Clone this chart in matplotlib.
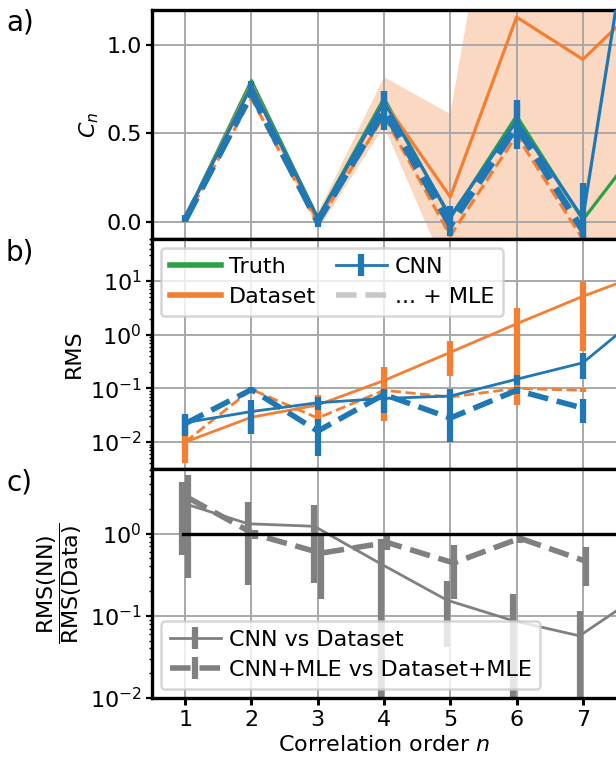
import matplotlib
matplotlib.use("Agg")
import matplotlib.pyplot as plt
from matplotlib.lines import Line2D
import numpy as np

# ---------------- data ----------------
n_full = [1, 2, 3, 4, 5, 6, 7, 8]
n_mle = [1, 2, 3, 4, 5, 6, 7]
xticks = [1, 2, 3, 4, 5, 6, 7]

# panel a: correlation values C_n
truth = [0.02, 0.80, 0.02, 0.70, 0.02, 0.60, 0.01, 0.50]
dataset = [0.02, 0.78, 0.00, 0.68, 0.14, 1.16, 0.92, 1.28]
dataset_mle = [0.01, 0.70, -0.01, 0.60, -0.08, 0.49, -0.10]
cnn = [0.02, 0.77, 0.02, 0.68, 0.03, 0.57, 0.02, 2.40]
cnn_err = [0.02, 0.03, 0.03, 0.06, 0.06, 0.12, 0.20, 0.30]
cnn_mle = [0.01, 0.73, 0.00, 0.63, -0.02, 0.54, -0.05]
cnn_mle_err = [0.01, 0.03, 0.03, 0.11, 0.06, 0.13, 0.05]

# panel b: RMS
rms_dataset = [0.010, 0.029, 0.049, 0.14, 0.47, 1.6, 5.2, 15.0]
rms_dataset_err = [0.006, 0.015, 0.026, 0.115, 0.30, 1.55, 4.7, 8.0]
rms_dataset_mle = [0.010, 0.096, 0.028, 0.092, 0.069, 0.100, 0.092]
rms_dataset_mle_err = [0.003, 0.008, 0.004, 0.008, 0.006, 0.008, 0.008]
rms_cnn = [0.023, 0.037, 0.054, 0.065, 0.072, 0.148, 0.30, 3.1]
rms_cnn_err = [0.010, 0.023, 0.015, 0.030, 0.025, 0.030, 0.15, 1.0]
rms_cnn_mle = [0.022, 0.095, 0.016, 0.077, 0.028, 0.092, 0.043]
rms_cnn_mle_err = [0.008, 0.012, 0.0105, 0.020, 0.018, 0.015, 0.020]

# panel c: RMS ratios
ratio = [2.38, 1.32, 1.23, 0.43, 0.155, 0.087, 0.057, 0.20]
ratio_err = [1.83, 1.08, 0.98, 0.44, 0.113, 0.095, 0.058, 0.10]
ratio_mle = [2.72, 0.98, 0.58, 0.78, 0.44, 0.88, 0.46]
ratio_mle_err = [2.43, 0.13, 0.42, 0.15, 0.28, 0.12, 0.23]

# ---------------- style ----------------
GREEN = "#2ca044"
ORANGE = "#f47f33"
BLUE = "#1f77b4"
GREY = "#808080"
GRIDC = "#a8a8a8"
FS = 16
LFS = 16

plt.rcParams["font.family"] = ["DejaVu Sans"]
plt.rcParams["font.size"] = FS
plt.rcParams["mathtext.fontset"] = "dejavusans"

fig = plt.figure(figsize=(6.16, 7.66), dpi=100)
L = 152 / 616
W = 1.0 - L
H = 229.3 / 766
tops = [10 / 766, 239.3 / 766, 468.6 / 766]
axes = []
for t in tops:
    axes.append(fig.add_axes([L, 1 - t - H, W, H]))
axa, axb, axc = axes

for ax in axes:
    ax.set_xlim(0.5, 7.5)
    ax.set_xticks(xticks)
    ax.grid(True, which="major", color=GRIDC, lw=1.4)
    for s in ["top", "bottom", "left"]:
        ax.spines[s].set_linewidth(2.4)
    ax.spines["right"].set_visible(False)
    ax.tick_params(axis="y", which="major", length=4, width=1.6, labelsize=FS)
    ax.tick_params(axis="y", which="minor", length=2.5, width=1.0)
    ax.tick_params(axis="x", which="major", length=5, width=2.2, labelsize=FS)

for ax in (axa, axb):
    ax.tick_params(axis="x", length=0, labelbottom=False)

# ---------------- panel a ----------------
lo = np.array(dataset) - np.array(rms_dataset)
hi = np.array(dataset) + np.array(rms_dataset)
axa.fill_between(n_full, lo, hi, color=ORANGE, alpha=0.3, lw=0)
axa.plot(n_full, truth, color=GREEN, lw=2.3, zorder=3)
axa.plot(n_full, dataset, color=ORANGE, lw=2.3, zorder=3)
axa.plot(n_mle, dataset_mle, color=ORANGE, lw=2.3, ls="--", zorder=3)
axa.errorbar(n_full, cnn, yerr=cnn_err, color=BLUE, lw=2.3, elinewidth=4.5,
             capsize=0, zorder=4)
axa.errorbar(n_mle, cnn_mle, yerr=cnn_mle_err, color=BLUE, lw=4.8, ls="--",
             elinewidth=4.5, capsize=0, zorder=4)
axa.set_ylim(-0.1, 1.2)
axa.set_yticks([0.0, 0.5, 1.0])
axa.set_ylabel(r"$C_n$", fontsize=FS)

# ---------------- panel b ----------------
axb.set_yscale("log")
axb.errorbar(n_full, rms_dataset, yerr=rms_dataset_err, color=ORANGE, lw=2.0,
             elinewidth=4.5, capsize=0, zorder=3)
axb.errorbar(n_mle, rms_dataset_mle, yerr=rms_dataset_mle_err, color=ORANGE,
             lw=2.0, ls="--", elinewidth=4.5, capsize=0, zorder=3)
cnn_b = axb.errorbar(n_full, rms_cnn, yerr=rms_cnn_err, color=BLUE, lw=2.0,
                     elinewidth=4.5, capsize=0, zorder=4)
axb.errorbar(n_mle, rms_cnn_mle, yerr=rms_cnn_mle_err, color=BLUE, lw=4.0,
             ls="--", elinewidth=4.5, capsize=0, zorder=4)
axb.set_ylim(3.2e-3, 60)
axb.set_yticks([1e-2, 1e-1, 1e0, 1e1])
axb.set_ylabel("RMS", fontsize=FS)

h_truth = Line2D([], [], color=GREEN, lw=4.0)
h_data = Line2D([], [], color=ORANGE, lw=4.0)
h_mle = Line2D([], [], color="#c8c8c8", lw=4.0, ls="--")
legb = axb.legend([h_truth, h_data, cnn_b, h_mle],
                  ["Truth", "Dataset", "CNN", "... + MLE"],
                  ncol=2, loc="upper left", fontsize=LFS, framealpha=0.8,
                  borderaxespad=0.4, columnspacing=0.9, handlelength=2.3,
                  handletextpad=0.35, borderpad=0.4, labelspacing=0.45)
legb.get_frame().set_linewidth(1.8)
legb.get_frame().set_edgecolor("#cccccc")

# ---------------- panel c ----------------
axc.set_yscale("log")
xs = np.array(n_full) - 0.05
xm = np.array(n_mle) + 0.05
axc.errorbar(xs, ratio, yerr=ratio_err, color=GREY, lw=2.0,
             elinewidth=4.5, capsize=0, zorder=2, label="CNN vs Dataset")
axc.errorbar(xm, ratio_mle, yerr=ratio_mle_err, color=GREY, lw=4.0,
             ls="--", elinewidth=4.5, capsize=0, zorder=2,
             label="CNN+MLE vs Dataset+MLE")
axc.plot([0.97, 8.5], [1, 1], color="k", lw=2.4, zorder=3)
axc.set_ylim(1e-2, 6.2)
axc.set_yticks([1e-2, 1e-1, 1e0])
axc.set_ylabel(r"$\dfrac{\mathrm{RMS(NN)}}{\mathrm{RMS(Data)}}$", fontsize=FS)
legc = axc.legend(loc="lower left", fontsize=LFS, framealpha=0.8,
                  borderaxespad=0.4, handlelength=2.3, handletextpad=0.35,
                  borderpad=0.4, labelspacing=0.45)
legc.get_frame().set_linewidth(1.8)
legc.get_frame().set_edgecolor("#cccccc")
axc.set_xlabel(r"Correlation order $n$", fontsize=FS)

# panel letters
fig.text(6 / 616, 1 - 22 / 766, "a)", fontsize=20, va="center", ha="left")
fig.text(6 / 616, 1 - 253 / 766, "b)", fontsize=20, va="center", ha="left")
fig.text(6 / 616, 1 - 482 / 766, "c)", fontsize=20, va="center", ha="left")

fig.savefig("out.png", dpi=100)
